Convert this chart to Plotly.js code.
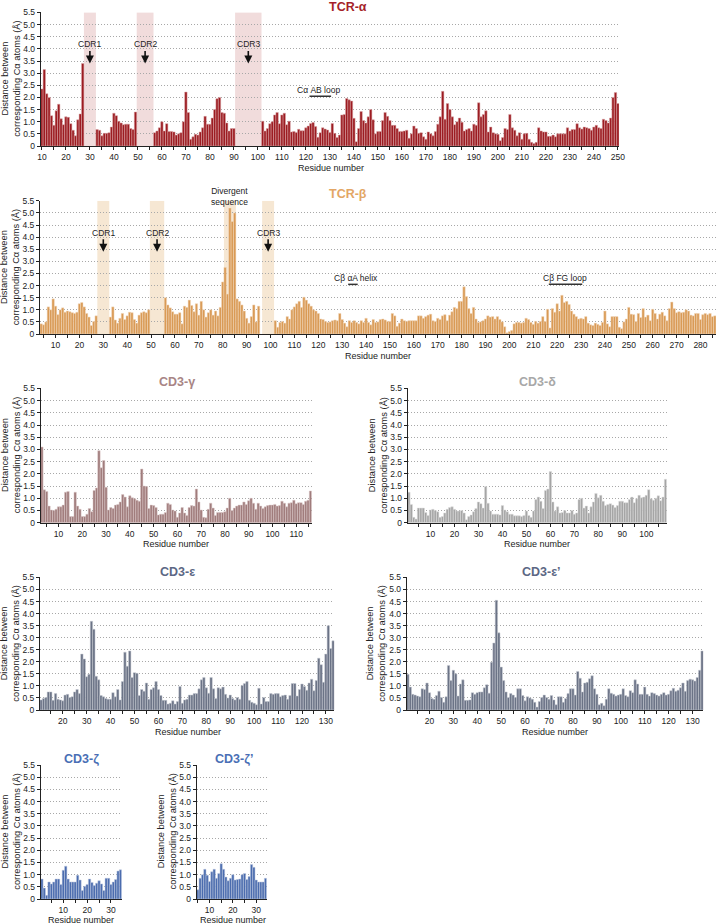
<!DOCTYPE html>
<html>
<head>
<meta charset="utf-8">
<script src="https://cdn.plot.ly/plotly-3.0.1.min.js"></script>
<style>
html,body{margin:0;padding:0;background:#ffffff;}
#chart{width:718px;height:924px;}
</style>
</head>
<body>
<div id="chart"></div>
<script>
// ---------------- DATA ----------------
const panelTitles = ['TCR-α', 'TCR-β', 'CD3-γ', 'CD3-δ', 'CD3-ε', 'CD3-ε’', 'CD3-ζ', 'CD3-ζ’'];
const yTickVals = [0, 0.5, 1.0, 1.5, 2.0, 2.5, 3.0, 3.5, 4.0, 4.5, 5.0, 5.5];
const yTickText = ['0', '0.5', '1.0', '1.5', '2.0', '2.5', '3.0', '3.5', '4.0', '4.5', '5.0', '5.5'];
const xTitle = 'Residue number';
const yTitle = 'Distance between<br>corresponding Cα atoms (Å)';

// TCR-α, residues 10..250 (null = residue not compared)
const tcrAlphaStart = 10;
const tcrAlphaValues = [
  2.35, 3.15, 2.15, 2.0, 1.25, 0.85, 1.45, 1.72, 1.12, 0.88, 1.2, 1.18, 0.92, 0.65, 0.42, 1.08, 1.32, 3.4,
  null, null, null, null, null,
  0.68, 0.65, 0.42, 0.52, 0.52, 0.55, 0.78, 1.35, 1.25, 1.02, 0.95, 0.88, 0.9, 0.9, 0.72, 0.68, 1.4,
  null, null, null, null, null, null, null,
  0.55, 0.62, 0.75, 1.0, 0.62, 0.92, 0.6, 0.6, 0.58, 0.45, 0.5, 0.55, 1.0, 2.22,
  1.38, 0.28, 0.38, 0.48, 0.45, 0.58, 0.75, 1.22, 0.9, 0.9, 1.15, 1.5, 1.95, 2.0, 1.38, 1.35, 0.95, 0.62, 0.72, 0.72,
  null, null, null, null, null, null, null, null, null, null, null,
  1.02, 0.62, 0.72, 0.92, 1.0, 1.28, 1.38, 0.92, 1.28, 1.35, 0.88, 1.02, 0.58, 0.6, 0.56,
  0.69, 0.63, 0.63, 0.75, 0.82, 0.93, 0.97, 0.8, 0.36, 0.55, 0.75, 0.7, 0.66, 0.56, 0.93, 0.52, 0.35, 0.45, 1.28, 1.3, 1.96, 1.9, 1.85, 1.14, 0.18,
  0.72, 1.42, 1.05, 0.95, 1.2, 1.5, 1.08, 0.5, 0.6, 0.6, 1.05, 1.38, 1.22, 1.05, 0.85, 0.85, 0.72, 0.6, 0.6, 0.62,
  0.65, 0.32, 0.5, 0.82, 0.72, 0.52, 0.55, 0.38, 0.28, 0.58, 0.5, 0.42, 0.6, 0.9, 1.2, 2.25, 1.1, 1.75, 1.5, 1.2,
  0.88, 1.0, 1.15, 0.98, 0.62, 0.68, 0.72, 0.62, 0.9, 0.85, 1.78, 1.2, 1.3, 1.45, 0.58, 0.78, 0.55, 0.5, 0.48, 0.22,
  0.35, 0.72, 0.68, 1.3, 0.75, 0.65, 0.42, 0.55, 0.28, 0.5, 0.52, 0.28, 0.15, 0.1, 0.15, 0.75, 0.62, 0.58, 0.58, 0.4,
  0.4, 0.45, 0.38, 0.5, 0.5, 0.5, 0.5, 0.75, 0.62, 0.68, 0.68, 0.92, 0.75, 0.7, 0.78, 0.75, 0.72, 0.65, 0.78, 0.85,
  0.75, 0.72, 1.1, 1.05, 0.95, 1.15, 2.0, 2.2, 1.75
];

// TCR-β, residues 4..286
const tcrBetaStart = 4;
const tcrBetaValues = [
  0.42, 0.38, 0.5, 1.12, 1.0, 1.45, 1.15, 0.8, 1.0, 1.08, 0.9, 0.95, 0.92, 0.88, 0.85, 0.9, 1.25, 1.3, 1.12, 0.85, 0.7, 0.35, 0.52, 0.75,
  null, null, null, null, null,
  0.7, 1.12, 0.58, 0.45, 0.65, 0.85, 0.6, 0.75, 0.9, 0.88, 0.6, 0.45, 0.78, 0.88, 0.92, 0.88, 1.0,
  null, null, null, null, null, null,
  1.5, 1.2, 1.08, 0.92, 0.82, 0.82, 0.88, 0.42, 1.15, 1.1, 1.4, 1.18, 0.92, 1.25, 0.78, 1.35, 1.0, 0.7, 0.88, 1.0, 0.78, 0.95, 0.75, 1.1,
  2.15, 2.75, 1.65, 5.2, 4.65, 5.0, 1.45, 1.35, 1.2, 0.95, 0.65, 0.45, 0.72, 1.2, 0.5, 1.15,
  null, null, null, null, null, null,
  0.55, 0.28, 0.48, 0.52, 0.45, 0.72, 0.62, 1.0, 1.12, 1.25, 1.35, 1.1, 1.52, 1.4, 1.25, 1.15, 1.0, 0.95, 0.85, 0.62,
  0.6, 0.52, 0.48, 0.5, 0.55, 0.58, 0.55, 0.85, 0.6, 0.45, 0.3, 0.55, 0.48, 0.55, 0.48, 0.42, 0.55, 0.48, 0.65,
  0.48, 0.38, 0.6, 0.48, 0.5, 0.6, 0.62, 0.58, 0.52, 0.52, 0.85, 0.75, 0.32, 0.45, 0.62, 0.55, 0.52, 0.55, 0.55, 0.55,
  0.55, 0.75, 0.75, 0.65, 0.72, 0.78, 0.82, 0.55, 0.52, 0.65, 0.6, 0.75, 0.8, 0.55, 0.78, 0.92, 1.1, 1.05, 1.35, 1.35, 1.95,
  1.55, 1.05, 0.85, 1.1, 0.62, 0.48, 0.5, 0.55, 0.62, 0.75, 0.7, 0.72, 0.62, 0.72, 0.6, 0.5, 0.3,
  0.05, 0.1, 0.15, 0.42, 0.48, 0.48, 0.45, 0.48, 0.65, 0.6, 0.48, 0.4, 0.52, 0.45, 0.52,
  0.72, 0.52, 1.02, 0.25, 1.05, 0.9, 1.25, 0.95, 1.6, 1.3, 1.35, 1.22, 0.95, 0.82, 0.72, 0.62, 0.65,
  0.62, 0.72, 0.45, 0.38, 0.35, 0.45, 0.4, 0.35, 0.48, 0.95, 0.42, 0.3, 0.72, 0.72, 0.72, 0.28, 0.22, 0.5, 0.62, 1.1,
  0.82, 0.8, 0.52, 0.85, 0.68, 1.05, 0.7, 0.78, 0.55, 1.02, 0.85, 0.62, 0.82, 0.9, 0.75, 0.55, 1.05, 1.32, 1.05, 0.88,
  0.92, 0.88, 0.9, 1.0, 0.95, 0.78, 0.75, 0.85, 0.85, 0.6, 0.8, 0.85, 0.8, 0.85, 0.72, 0.75
];

// CD3-γ, residues 3..116
const cd3GammaStart = 3;
const cd3GammaValues = [
  3.1, 1.35, 1.28, 0.68, 0.52, 0.5, 0.55, 0.65, 0.65, 0.72, 1.25, 1.28, 0.25, 0.25, 1.25, 0.68, 0.55, 0.25, 0.25, 0.35, 0.58, 0.45, 1.32, 1.42, 2.95,
  2.25, 2.55, 1.45, 0.52, 0.62, 0.58, 0.72, 0.75, 0.85, 1.15, 1.05, 0.65, 1.1, 1.02, 0.98, 0.92, 0.88, 2.2,
  1.5, 1.48, 0.58, 0.72, 0.7, 0.62, 0.32, 0.35, 0.35, 0.42, 0.8, 0.75, 0.52, 0.48, 0.22, 0.4, 0.62, 0.4, 0.3, 0.62, 0.7, 0.68, 1.38,
  0.85, 0.52, 0.22, 0.2, 0.55, 0.8, 0.6, 0.3, 0.42, 0.42, 0.42, 0.45, 0.6, 1.0,
  0.5, 0.6, 0.68, 0.72, 0.72, 0.85, 0.75, 0.9, 1.0, 0.8, 0.55, 0.8, 0.68, 0.58, 0.65, 0.7, 0.72, 0.72, 0.75, 0.68,
  0.7, 0.88, 0.8, 0.65, 0.8, 0.82, 0.92, 0.78, 0.82, 0.82, 0.75, 0.88, 0.92, 1.3
];

// CD3-δ, residues 1..108
const cd3DeltaStart = 1;
const cd3DeltaValues = [
  1.25, 0.75, 0.22, 0.15, 0.6, 0.6, 0.6, 0.42, 0.3, 0.52,
  0.55, 0.5, 0.45, 0.22, 0.25, 0.4, 0.55, 0.62, 0.65, 0.55,
  0.48, 0.48, 0.5, 0.4, 0.12, 0.25, 0.32, 0.45, 0.58, 0.85,
  0.78, 0.6, 1.48, 0.8, 0.48, 0.35, 0.35, 0.35, 0.32, 0.7,
  0.52, 0.45, 0.35, 0.35, 0.28, 0.28, 0.28, 0.25, 0.3, 0.48,
  0.3, 0.22, 0.48, 0.95, 1.05, 0.88, 0.58, 1.32, 1.38, 2.1,
  0.85, 0.48, 0.65, 0.4, 0.42, 0.5, 0.4, 0.4, 0.5, 0.35,
  0.4, 0.95, 1.0, 0.6, 0.68, 0.4, 0.65, 0.85, 1.2, 1.02,
  1.12, 0.88, 0.7, 0.75, 0.78, 0.72, 0.62, 0.7, 0.88, 0.88,
  0.82, 0.82, 0.95, 1.05, 0.82, 0.98, 1.12, 1.02, 1.05, 1.12,
  1.35, 0.98, 0.92, 1.0, 1.1, 0.9, 1.05, 1.78
];

// CD3-ε, residues 11..133
const cd3EpsilonStart = 11;
const cd3EpsilonValues = [
  0.42, 0.48, 0.52, 0.75, 0.75, 0.4, 0.68, 0.45, 0.42, 0.38,
  0.62, 0.65, 0.52, 0.55, 0.75, 0.85, 0.68, 2.32, 2.12, 1.38,
  1.48, 3.68, 3.35, 1.4, 1.25, 0.6, 0.55, 0.48, 0.45, 0.45,
  0.72, 0.55, 0.85, 0.42, 1.18, 2.4, 1.82, 2.45, 1.35, 1.55,
  1.52, 0.6, 0.85, 0.78, 1.12, 0.45, 0.85, 0.92, 1.18, 0.85,
  0.6, 0.4, 0.4, 0.25, 0.28, 0.38, 0.25, 0.35, 0.98, 0.28,
  0.42, 0.45, 0.62, 0.62, 0.68, 0.68, 0.88, 1.25, 1.35, 0.92,
  0.7, 1.35, 0.88, 0.48, 0.92, 0.88, 0.95, 0.65, 0.5, 0.62,
  0.48, 0.42, 0.52, 0.45, 1.02, 1.1, 1.18, 0.4, 0.32, 0.28,
  0.22, 0.9, 0.25, 0.52, 0.35, 0.35, 0.68, 0.65, 0.68, 0.68,
  0.55, 0.6, 0.62, 0.45, 0.6, 1.1, 1.1, 0.58, 0.85, 1.08,
  0.98, 0.82, 1.12, 1.28, 0.8, 1.22, 2.15, 1.88, 1.15, 2.32,
  3.5, 2.55, 2.87
];

// CD3-ε', residues 11..134
const cd3EpsilonPrimeStart = 11;
const cd3EpsilonPrimeValues = [
  1.48, 0.95, 0.65, 0.62, 0.58, 0.55, 0.88, 0.85, 1.12, 0.72,
  0.48, 0.45, 0.6, 0.78, 0.52, 0.32, 0.55, 1.85, 1.22, 1.65,
  1.5, 0.58, 1.08, 1.25, 0.4, 0.4, 0.42, 0.72, 0.65, 0.72,
  0.75, 0.75, 0.92, 1.05, 0.7, 1.98, 2.78, 4.55, 3.2, 1.78,
  1.22, 0.75, 0.52, 0.68, 0.62, 0.52, 0.88, 0.88, 0.6, 0.38,
  0.55, 0.5, 0.45, 0.32, 0.12, 0.35, 0.52, 0.62, 0.52, 0.45,
  0.6, 0.42, 0.22, 0.55, 0.55, 0.32, 0.48, 0.68, 0.88, 0.88,
  0.62, 1.6, 1.32, 0.75, 1.12, 1.15, 1.3, 1.42, 0.88, 0.65,
  0.22, 0.28, 0.18, 0.45, 0.88, 0.7, 0.65, 0.58, 0.62, 0.65,
  0.88, 0.6, 0.55, 0.8, 0.72, 1.25, 1.08, 0.65, 0.65, 0.95,
  0.65, 0.58, 0.72, 0.68, 0.62, 0.58, 0.65, 0.72, 0.62, 0.65,
  0.8, 0.9, 0.78, 0.82, 0.92, 1.12, 0.78, 1.22, 1.28, 1.25,
  1.2, 1.35, 1.65, 2.45
];

// CD3-ζ, residues 1..34
const cd3ZetaStart = 1;
const cd3ZetaValues = [
  0.82, 0.45, 0.15, 0.7, 0.62, 0.7, 0.82, 0.82, 0.6, 1.18,
  1.35, 0.82, 0.7, 0.7, 0.7, 0.98, 0.78, 0.35, 0.52, 0.6,
  0.82, 0.68, 0.55, 0.65, 0.75, 0.62, 0.35, 0.85, 0.85, 0.6,
  0.7, 0.8, 1.15, 1.2
];

// CD3-ζ', residues 5..34
const cd3ZetaPrimeStart = 5;
const cd3ZetaPrimeValues = [
  0.38, 0.85, 1.0, 1.22, 0.98, 0.72, 1.12, 1.22, 0.85, 1.05,
  1.45, 1.22, 0.9, 0.75, 0.85, 1.0, 0.78, 0.8, 0.82, 1.0,
  1.05, 0.8, 0.92, 1.42, 1.3, 0.78, 0.7, 0.7, 0.7, 0.85
];

// Highlighted residue ranges and labels
const tcrAlphaCdrSpans = [[27.5, 32.5], [49.5, 56.5], [90.5, 101.5]];
const tcrAlphaCdrLabels = ['CDR1', 'CDR2', 'CDR3'];
const tcrAlphaCdrCentres = [30, 53, 96];
const tcrBetaCdrSpans = [[27.5, 32.5], [49.5, 55.5], [96.5, 101.5]];
const tcrBetaCdrLabels = ['CDR1', 'CDR2', 'CDR3'];
const tcrBetaCdrCentres = [30, 52.5, 99];
const tcrBetaDivergentSpan = [80.5, 85.5];
const tcrBetaDivergentLabel = 'Divergent<br>sequence';
const loopLabels = ['Cα AB loop', 'Cβ αA helix', 'Cβ FG loop'];
const loopSpans = [[121.5, 130.5], [132.5, 136.5], [216.5, 230.5]];

// ---------------- STYLE / GEOMETRY ----------------
const W = 718, H = 924;
const FONT = 'Arial, "Liberation Sans", Helvetica, sans-serif';

const series = [
  {start: tcrAlphaStart, values: tcrAlphaValues},
  {start: tcrBetaStart, values: tcrBetaValues},
  {start: cd3GammaStart, values: cd3GammaValues},
  {start: cd3DeltaStart, values: cd3DeltaValues},
  {start: cd3EpsilonStart, values: cd3EpsilonValues},
  {start: cd3EpsilonPrimeStart, values: cd3EpsilonPrimeValues},
  {start: cd3ZetaStart, values: cd3ZetaValues},
  {start: cd3ZetaPrimeStart, values: cd3ZetaPrimeValues}
];

const styles = [
  {bar: '#9c1c22', edge: '#dba9ab', title: '#a51f2a'},
  {bar: '#d99a55', edge: '#f2dbc0', title: '#e3a665'},
  {bar: '#a07c7c', edge: '#dccaca', title: '#a88585'},
  {bar: '#a5a5a5', edge: '#e0e0e0', title: '#a8a8a8'},
  {bar: '#6b7386', edge: '#c8ccd5', title: '#5c6784'},
  {bar: '#6b7386', edge: '#c8ccd5', title: '#5c6784'},
  {bar: '#4b6cae', edge: '#c2cce3', title: '#4a6fb5'},
  {bar: '#4b6cae', edge: '#c2cce3', title: '#4a6fb5'}
];

// pixel boxes: x0/x1 = plot left/right, yt/yb = value 5.5 / value 0
const boxes = [
  {x0: 40.7, x1: 619.1, yt: 12.3, yb: 146, tx: 348, ty: 6.5, xtx: 331, xty: 168, ytx: 10.7},
  {x0: 40, x1: 716, yt: 200.7, yb: 334, tx: 347.5, ty: 194, xtx: 378, xty: 356, ytx: 10},
  {x0: 40.7, x1: 311.7, yt: 388.3, yb: 522.7, tx: 177, ty: 382, xtx: 176, xty: 544, ytx: 10.7},
  {x0: 407.7, x1: 666.7, yt: 388.3, yb: 522.7, tx: 537.5, ty: 382, xtx: 536.5, xty: 544, ytx: 377},
  {x0: 40, x1: 334.3, yt: 577.3, yb: 710, tx: 177, ty: 572, xtx: 187.5, xty: 732, ytx: 10},
  {x0: 406.7, x1: 703.3, yt: 577.3, yb: 710, tx: 541, ty: 572, xtx: 555, xty: 732, ytx: 376},
  {x0: 40.7, x1: 121.7, yt: 765, yb: 899, tx: 81.5, ty: 759, xtx: 81, xty: 920, ytx: 10.7},
  {x0: 196.7, x1: 266.7, yt: 765, yb: 899, tx: 234, ty: 759, xtx: 232.5, xty: 920, ytx: 166.5}
];

const px = p => p / W;
const py = p => 1 - p / H;

const data = [];
const annotations = [];
const shapes = [];
const layout = {
  width: W, height: H,
  margin: {l: 0, r: 0, t: 0, b: 0, pad: 0},
  paper_bgcolor: '#ffffff', plot_bgcolor: 'rgba(0,0,0,0)',
  showlegend: false,
  bargap: 0,
  font: {family: FONT, size: 8.5, color: '#222222'}
};

series.forEach((s, i) => {
  const k = i === 0 ? '' : String(i + 1);
  const b = boxes[i], st = styles[i];
  const xs = s.values.map((_, j) => s.start + j);
  data.push({
    type: 'bar', x: xs, y: s.values,
    xaxis: 'x' + k, yaxis: 'y' + k,
    marker: {color: st.bar, line: {color: st.edge, width: 0.5}},
    hoverinfo: 'skip'
  });
  layout['xaxis' + k] = {
    domain: [px(b.x0), px(b.x1)],
    anchor: 'y' + k,
    range: [s.start - 0.5, s.start + s.values.length - 0.5],
    tickmode: 'linear', tick0: 0, dtick: 10,
    ticks: 'outside', ticklen: 3, tickwidth: 1, tickcolor: '#222',
    minor: {tick0: 0, dtick: 5, ticks: 'outside', ticklen: 3, tickwidth: 1, tickcolor: '#222', showgrid: false},
    showline: true, linecolor: '#222', linewidth: 1,
    showgrid: false, zeroline: false,
    tickfont: {family: FONT, size: 8.5, color: '#222'},
    fixedrange: true
  };
  layout['yaxis' + k] = {
    domain: [py(b.yb), py(b.yt)],
    anchor: 'x' + k,
    range: [0, 5.505],
    tickmode: 'array', tickvals: yTickVals, ticktext: yTickText,
    ticks: 'outside', ticklen: 3, tickwidth: 1, tickcolor: '#222',
    showline: true, linecolor: '#222', linewidth: 1,
    showgrid: true, gridcolor: '#a8a8a8', griddash: '1px,2px', gridwidth: 1,
    zeroline: false,
    tickfont: {family: FONT, size: 8.5, color: '#222'},
    fixedrange: true
  };
  // panel title
  annotations.push({
    xref: 'paper', yref: 'paper', x: px(b.tx), y: py(b.ty),
    xanchor: 'center', yanchor: 'middle', showarrow: false,
    text: '<b>' + panelTitles[i] + '</b>',
    font: {family: FONT, size: 12.5, color: st.title}
  });
  // x title
  annotations.push({
    xref: 'paper', yref: 'paper', x: px(b.xtx), y: py(b.xty),
    xanchor: 'center', yanchor: 'middle', showarrow: false,
    text: xTitle, font: {family: FONT, size: 9, color: '#222'}
  });
  // y title
  annotations.push({
    xref: 'paper', yref: 'paper', x: px(b.ytx), y: py((b.yt + b.yb) / 2),
    xanchor: 'center', yanchor: 'middle', showarrow: false, textangle: -90,
    text: yTitle, font: {family: FONT, size: 9.3, color: '#222'}
  });
});

// CDR shading and arrows
function addCdr(spans, labels, centres, axK, fill) {
  spans.forEach((sp, j) => {
    shapes.push({type: 'rect', xref: 'x' + axK, yref: 'y' + axK,
      x0: sp[0], x1: sp[1], y0: 0, y1: 5.5,
      fillcolor: fill, line: {width: 0}, layer: 'below'});
    annotations.push({xref: 'x' + axK, yref: 'y' + axK, x: centres[j], y: 3.4,
      text: labels[j], showarrow: true, arrowhead: 2, arrowsize: 1, arrowwidth: 1.6,
      arrowcolor: '#111', ax: 0, ay: -19, standoff: 0,
      font: {family: FONT, size: 8.5, color: '#222'}});
  });
}
addCdr(tcrAlphaCdrSpans, tcrAlphaCdrLabels, tcrAlphaCdrCentres, '', '#f1dcdc');
addCdr(tcrBetaCdrSpans, tcrBetaCdrLabels, tcrBetaCdrCentres, '2', '#f6e7d3');

shapes.push({type: 'rect', xref: 'x2', yref: 'y2',
  x0: tcrBetaDivergentSpan[0], x1: tcrBetaDivergentSpan[1], y0: 0, y1: 5.5,
  fillcolor: '#f6e7d3', line: {width: 0}, layer: 'below'});
annotations.push({xref: 'x2', yref: 'paper',
  x: (tcrBetaDivergentSpan[0] + tcrBetaDivergentSpan[1]) / 2, y: py(197),
  xanchor: 'center', yanchor: 'middle', showarrow: false,
  text: tcrBetaDivergentLabel, font: {family: FONT, size: 8.5, color: '#222'}});

// loop / helix markers
const loopAxes = ['', '2', '2'];
const loopLabelX = [125.2, 135.9, 223.3];
loopSpans.forEach((sp, j) => {
  const k = loopAxes[j];
  shapes.push({type: 'line', xref: 'x' + k, yref: 'y' + k,
    x0: sp[0], x1: sp[1], y0: 2.05, y1: 2.05,
    line: {color: '#333333', width: 1.5}});
  annotations.push({xref: 'x' + k, yref: 'y' + k, x: loopLabelX[j], y: 2.3,
    xanchor: 'center', yanchor: 'middle', showarrow: false,
    text: loopLabels[j], font: {family: FONT, size: 8.5, color: '#222'}});
});

layout.annotations = annotations;
layout.shapes = shapes;

Plotly.newPlot('chart', data, layout, {displayModeBar: false, staticPlot: true});
</script>
</body>
</html>
